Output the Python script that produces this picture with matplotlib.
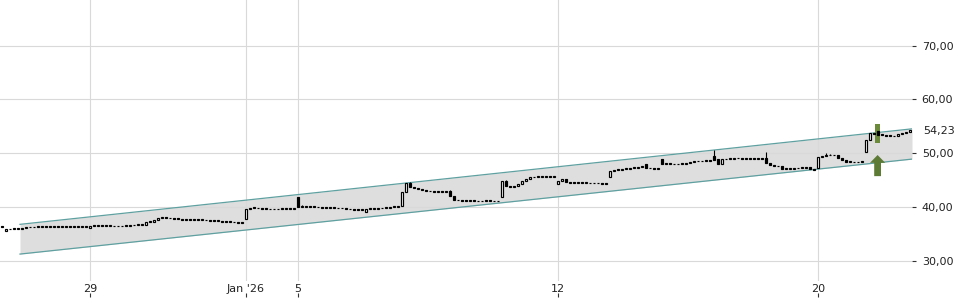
import numpy as np
import matplotlib
matplotlib.use("Agg")
import matplotlib.pyplot as plt
from matplotlib.patches import Polygon, Rectangle
from matplotlib.ticker import FuncFormatter

# 30-minute closes, one list per trading day
c_pre = [36.2, 35.8, 35.85, 35.9, 35.95, 36.0, 36.15, 36.15, 36.2, 36.2, 36.25,
         36.2, 36.25, 36.25, 36.2, 36.25, 36.25, 36.2, 36.2, 36.25, 36.25, 36.3]
c_dec29 = [36.45, 36.45, 36.45, 36.4, 36.4, 36.4, 36.35, 36.35, 36.45, 36.5, 36.55, 36.6, 36.6]
c_dec30 = [36.65, 37.2, 37.25, 37.6, 37.95, 38.1, 37.95, 37.85, 37.8, 37.7, 37.6, 37.6, 37.55]
c_dec31 = [37.55, 37.5, 37.5, 37.45, 37.4, 37.3, 37.3, 37.25, 37.2, 37.15, 37.1, 37.05, 37.0]
c_jan02 = [39.5, 39.8, 39.75, 39.7, 39.6, 39.55, 39.5, 39.5, 39.55, 39.6, 39.6, 39.55, 39.55]
c_jan05 = [40.0, 40.05, 40.1, 40.0, 39.95, 39.9, 39.85, 39.8, 39.8, 39.75, 39.7, 39.7, 39.65]
c_jan06 = [39.5, 39.45, 39.4, 39.45, 39.6, 39.6, 39.65, 39.7, 39.75, 39.8, 39.95, 40.0, 40.1]
c_jan07 = [42.7, 44.5, 43.7, 43.4, 43.3, 43.1, 42.9, 42.85, 42.8, 42.8, 42.75, 42.75, 42.0]
c_jan08 = [41.35, 41.2, 41.15, 41.1, 41.1, 41.05, 41.0, 41.05, 41.1, 41.05, 41.0, 41.0, 44.85]
c_jan09 = [43.9, 43.7, 43.9, 44.2, 44.75, 45.2, 45.45, 45.5, 45.5, 45.5, 45.55, 45.5, 45.5]
c_jan12 = [44.8, 45.1, 44.6, 44.5, 44.45, 44.45, 44.4, 44.4, 44.35, 44.35, 44.4, 44.3, 44.2]
c_jan13 = [46.6, 46.9, 46.85, 47.0, 47.1, 47.2, 47.3, 47.35, 47.4, 47.2, 47.15, 47.1, 47.1]
c_jan14 = [47.95, 48.0, 47.95, 47.9, 47.95, 48.0, 48.1, 48.4, 48.5, 48.45, 48.5, 48.55, 48.5]
c_jan15 = [48.7, 48.0, 48.8, 48.85, 48.9, 49.0, 49.0, 48.95, 49.0, 48.95, 48.9, 48.9, 48.85]
c_jan16 = [48.1, 47.8, 47.65, 47.5, 47.05, 47.1, 47.1, 47.15, 47.2, 47.3, 47.35, 46.95, 46.9]
c_jan20 = [49.3, 49.5, 49.6, 49.55, 49.6, 49.1, 48.7, 48.3, 48.3, 48.25, 48.3, 48.3]
c_jan21 = [52.4, 53.7, 53.6, 53.4, 53.35, 53.2, 53.1, 53.1, 53.5, 53.8, 54.0, 54.23]

days = [("", c_pre), ("29", c_dec29), ("", c_dec30), ("", c_dec31), ("Jan '26", c_jan02),
        ("5", c_jan05), ("", c_jan06), ("", c_jan07), ("", c_jan08), ("", c_jan09),
        ("12", c_jan12), ("", c_jan13), ("", c_jan14), ("", c_jan15), ("", c_jan16),
        ("20", c_jan20), ("", c_jan21)]

# bars whose open differs from the previous close
gap_open = {0: 36.25, 1: 35.4, 22: 36.05, 61: 37.7, 74: 41.9, 91: 39.05, 101: 42.8,
            112: 42.9, 125: 41.75, 139: 44.2, 152: 45.6, 161: 48.0, 165: 48.8,
            178: 49.5, 179: 48.9, 191: 49.1, 204: 47.2, 209: 49.65, 216: 50.1,
            219: 54.1, 222: 53.3, 226: 53.7, 227: 53.9}
wick_high = {75: 40.3, 102: 44.7, 112: 43.2, 126: 44.95, 156: 47.3, 178: 50.5,
             191: 50.2, 206: 50.0, 207: 49.8}

# trend channel (bar index, price)
chan_x = [4.5, 227.5]
chan_upper = [36.73, 54.5]
chan_lower = [31.2, 48.87]

signal_bar = 219
signal_top = 55.4
signal_bottom = 51.9
arrow_tip = 49.63
arrow_tail = 45.7

y_ticks = [30, 40, 50, 60, 70]

close = np.array([v for _, d in days for v in d])
x = np.arange(len(close))
opens = np.r_[close[0], close[:-1]]
for k, v in gap_open.items():
    opens[k] = v
hi = np.maximum(opens, close)
lo = np.minimum(opens, close)
for k, v in wick_high.items():
    hi[k] = v

tick_pos, tick_lab = [], []
start = 0
for name, d in days:
    if name:
        tick_pos.append(start)
        tick_lab.append(name)
    start += len(d)

fig = plt.figure(figsize=(9.6, 3), dpi=100)
ax = fig.add_axes([0, 19 / 300, 912 / 960, 281 / 300])

ax.fill_between(chan_x, chan_lower, chan_upper, color="#dedede", lw=0, zorder=0.3)
ax.plot(chan_x, chan_upper, color="#5fa0a0", lw=0.9, zorder=1)
ax.plot(chan_x, chan_lower, color="#5fa0a0", lw=0.9, zorder=1)

# green signal marks
ax.add_patch(Rectangle((signal_bar - 0.65, signal_bottom), 1.1, signal_top - signal_bottom,
                       color="#6b8a3a", lw=0, zorder=2.5))
sx = signal_bar - 0.1
head = arrow_tip - 1.45
ax.add_patch(Polygon([(sx, arrow_tip), (sx + 1.9, head), (sx + 0.85, head),
                      (sx + 0.85, arrow_tail), (sx - 0.85, arrow_tail),
                      (sx - 0.85, head), (sx - 1.9, head)],
                     closed=True, color="#5d7b35", lw=0, zorder=2.5))

# candles
ax.vlines(x, lo, hi, color="black", lw=0.8, zorder=2)
up = close >= opens
body_h = np.maximum(np.abs(close - opens), 0.15)
ax.bar(x, body_h, bottom=np.minimum(opens, close), width=0.6,
       color=np.where(up, "white", "black"), edgecolor="black", linewidth=0.85, zorder=3)

ax.set_xlim(-0.5, 227.5)
ax.set_ylim(26.19, 78.47)
for s in ax.spines.values():
    s.set_visible(False)
ax.grid(True, color="#d9d9d9", lw=0.8)
ax.set_axisbelow(True)

ax.set_xticks(tick_pos, tick_lab)
ax.tick_params(axis="x", length=0, pad=2, labelsize=8, labelcolor="#222222")
ax.yaxis.tick_right()
ax.set_yticks(y_ticks)
ax.yaxis.set_major_formatter(FuncFormatter(lambda v, p: f"{v:.2f}".replace(".", ",")))
ax.tick_params(axis="y", length=3, width=0.8, pad=4, labelsize=8,
               color="#333333", labelcolor="#222222")

sec = ax.secondary_xaxis(-0.057)
sec.set_xticks(tick_pos, [""] * len(tick_pos))
sec.tick_params(direction="in", length=3, width=0.8, color="#333333")
for s in sec.spines.values():
    s.set_visible(False)

ax.annotate(f"{close[-1]:.2f}".replace(".", ","), xy=(1, close[-1]),
            xycoords=("axes fraction", "data"), xytext=(8, 0), textcoords="offset points",
            va="center_baseline", ha="left", fontsize=8, color="#222222")

fig.savefig("out.png", dpi=100)
